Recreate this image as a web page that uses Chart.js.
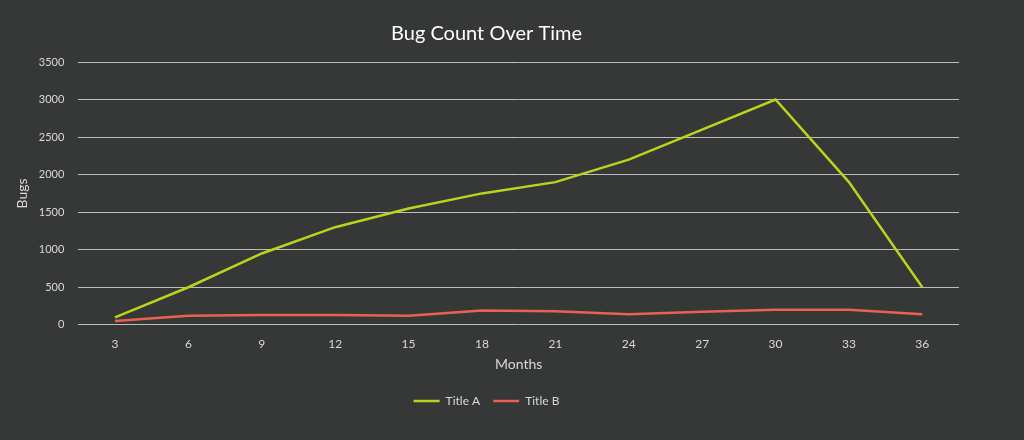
<!DOCTYPE html>
<html>
<head>
<meta charset="utf-8">
<script src="https://cdn.jsdelivr.net/npm/chart.js@4/dist/chart.umd.min.js"></script>
<style>
  html, body { margin: 0; padding: 0; background: #363737; }
  #wrap { width: 1024px; height: 440px; }
</style>
</head>
<body>
<div id="wrap"><canvas id="myChart" width="1024" height="440"></canvas></div>
<script>
var months = ['3', '6', '9', '12', '15', '18', '21', '24', '27', '30', '33', '36'];
var titleA = [100, 500, 950, 1300, 1550, 1750, 1900, 2200, 2600, 3000, 1900, 500];
var titleB = [50, 120, 130, 130, 120, 190, 180, 140, 175, 200, 200, 140];

var textColor = '#d9d9d9';
var fontName = 'Lato, "Open Sans", sans-serif';

var ctx = document.getElementById('myChart').getContext('2d');
var chart = new Chart(ctx, {
    type: 'line',
    data: {
        labels: months,
        datasets: [{
            label: 'Title A',
            data: titleA,
            borderColor: '#bcd31d',
            backgroundColor: '#bcd31d',
            borderWidth: 2.5,
            pointRadius: 0,
            pointStyle: 'line',
            tension: 0
        }, {
            label: 'Title B',
            data: titleB,
            borderColor: '#ea6150',
            backgroundColor: '#ea6150',
            borderWidth: 2.5,
            pointRadius: 0,
            pointStyle: 'line',
            tension: 0
        }]
    },
    options: {
        responsive: false,
        animation: false,
        layout: { padding: { left: 14, right: 65, top: 8, bottom: 23 } },
        plugins: {
            title: {
                display: true,
                text: 'Bug Count Over Time',
                color: '#ffffff',
                font: { family: fontName, size: 20, weight: 'normal' },
                padding: { top: 14, bottom: 16 }
            },
            legend: {
                position: 'bottom',
                labels: {
                    color: textColor,
                    font: { family: fontName, size: 12 },
                    usePointStyle: true,
                    pointStyleWidth: 26,
                    boxHeight: 3,
                    padding: 13
                }
            },
            tooltip: { enabled: false }
        },
        scales: {
            x: {
                offset: true,
                grid: { display: false, drawTicks: false },
                border: { display: false },
                ticks: { color: textColor, font: { family: fontName, size: 12 }, padding: 12 },
                title: { display: true, text: 'Months', color: textColor, font: { family: fontName, size: 14 }, padding: { top: -7, bottom: 9 } }
            },
            y: {
                min: 0,
                max: 3500,
                grid: { color: '#bdbdbd', lineWidth: 1, drawTicks: false },
                border: { display: false },
                ticks: {
                    stepSize: 500,
                    color: textColor,
                    font: { family: fontName, size: 11 },
                    padding: 14,
                    callback: function (v) { return String(v); }
                },
                title: { display: true, text: 'Bugs', color: textColor, font: { family: fontName, size: 14 }, padding: { top: 0, bottom: -6 } }
            }
        }
    }
});
</script>
</body>
</html>
